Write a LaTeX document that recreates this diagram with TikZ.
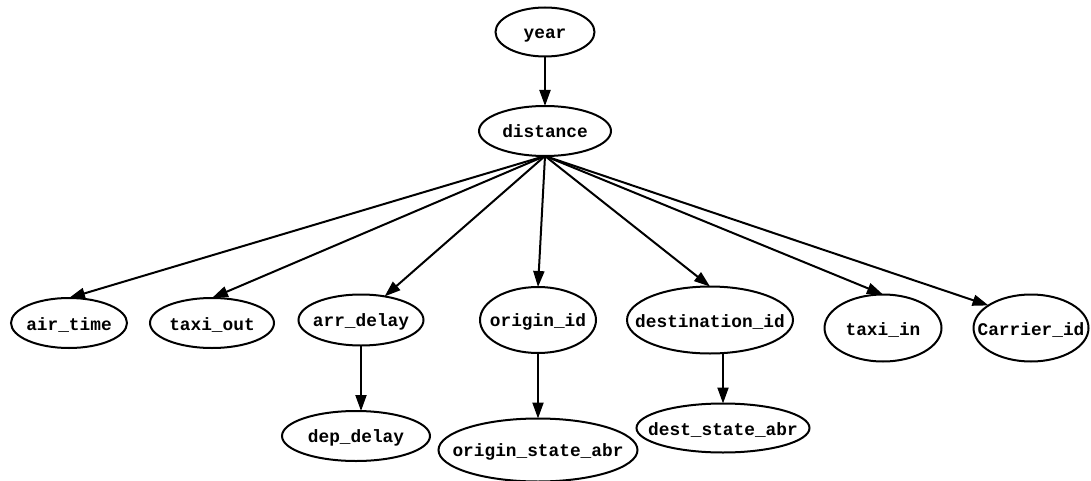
\documentclass[tikz,border=0pt]{standalone}
\usepackage{fontspec}
\setmonofont{Liberation Mono}
\usetikzlibrary{shapes.geometric,arrows.meta}
% label set in a zero-width box so that the ellipse keeps its given size
\newcommand{\vlabel}[1]{\makebox[0pt]{\rule[-3pt]{0pt}{20pt}#1}}
\begin{document}
\begin{tikzpicture}[x=1pt,y=-1pt,
  var/.style={ellipse,draw,line width=2pt,inner sep=0pt,outer sep=0pt,
    font=\ttfamily\bfseries\fontsize{17.8}{20}\selectfont},
  link/.style={line width=2pt,-{Triangle[length=16pt,width=11pt]}}]
\useasboundingbox (0,0) rectangle (1091,481);
% variables
\node[var,minimum width=99pt,minimum height=49pt]  (year)     at (545,32)  {\vlabel{year}};
\node[var,minimum width=132pt,minimum height=50pt] (distance) at (545,131) {\vlabel{distance}};
\node[var,minimum width=116pt,minimum height=50pt] (air_time) at (69,323)  {\vlabel{air\_time}};
\node[var,minimum width=124pt,minimum height=50pt] (taxi_out) at (212,323) {\vlabel{taxi\_out}};
\node[var,minimum width=125pt,minimum height=51pt] (arr_delay) at (361,320) {\vlabel{arr\_delay}};
\node[var,minimum width=148pt,minimum height=50pt] (dep_delay) at (356,436) {\vlabel{dep\_delay}};
\node[var,minimum width=116pt,minimum height=66pt] (origin_id) at (538,320) {\vlabel{origin\_id}};
\node[var,minimum width=199pt,minimum height=63pt] (origin_state_abr) at (538,450) {\vlabel{origin\_state\_abr}};
\node[var,minimum width=166pt,minimum height=67pt] (destination_id) at (710,320) {\vlabel{destination\_id}};
\node[var,minimum width=173pt,minimum height=49pt] (dest_state_abr) at (723,428) {\vlabel{dest\_state\_abr}};
\node[var,minimum width=117pt,minimum height=67pt] (taxi_in) at (883,328) {\vlabel{taxi\_in}};
\node[var,minimum width=115pt,minimum height=67pt] (Carrier_id) at (1031,328) {\vlabel{Carrier\_id}};
% dependencies
\draw[link] (year) -- (distance);
\draw[link] (distance.south) -- (air_time.north);
\draw[link] (distance.south) -- (taxi_out.north);
\draw[link] (distance.south) -- (arr_delay.45);
\draw[link] (distance.south) -- (origin_id.north);
\draw[link] (distance.south) -- (destination_id.north);
\draw[link] (distance.south) -- (taxi_in.north);
\draw[link] (distance.south) -- (Carrier_id.152);
\draw[link] (arr_delay) -- (dep_delay.north -| arr_delay);
\draw[link] (origin_id) -- (origin_state_abr);
\draw[link] (destination_id.south -| dest_state_abr.north) -- (dest_state_abr);
\end{tikzpicture}
\end{document}
